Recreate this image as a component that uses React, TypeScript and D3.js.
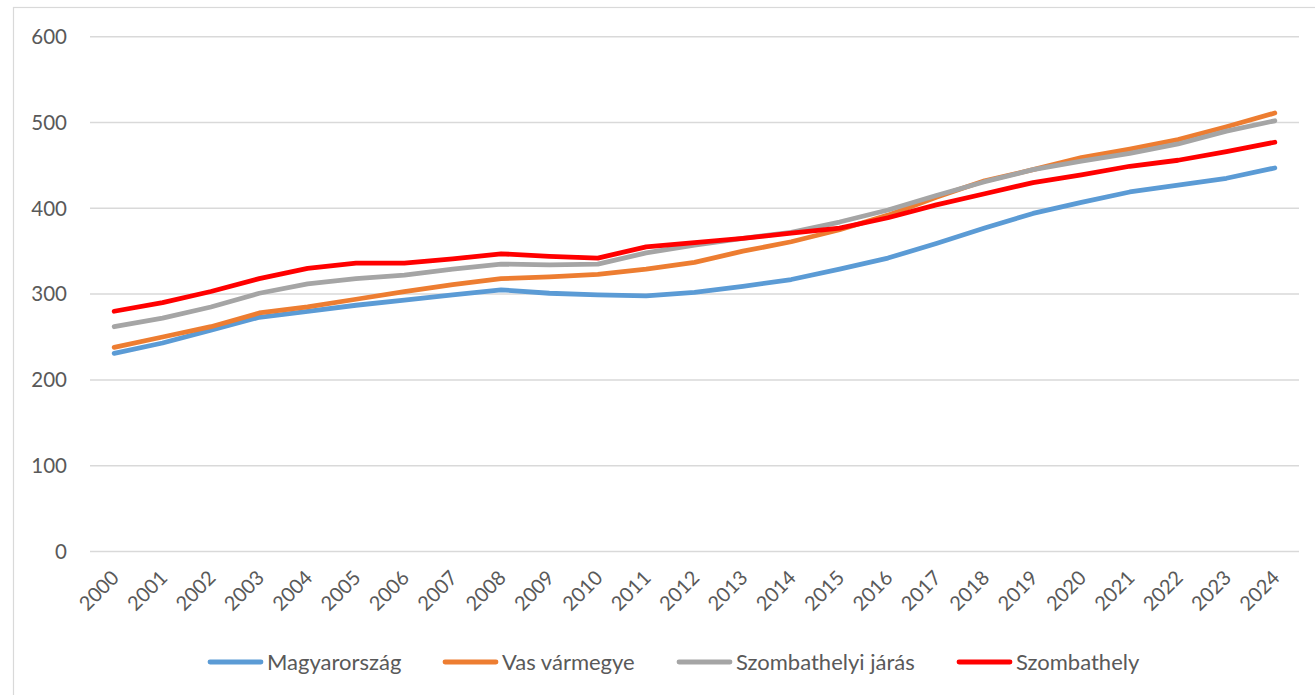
import React, { useEffect, useRef } from "react";
import * as d3 from "d3";

const years = d3.range(2000, 2025).map(String);
const yTicks = [0, 100, 200, 300, 400, 500, 600];

const magyarorszag = [231, 243, 258, 273, 280, 287, 293, 299, 305, 301, 299, 298, 302, 309, 317, 329, 342, 359, 377, 394, 407, 419, 427, 435, 447];
const vasVarmegye = [238, 250, 262, 278, 285, 294, 303, 311, 318, 320, 323, 329, 337, 350, 361, 375, 392, 413, 432, 445, 459, 469, 480, 495, 511];
const szombathelyiJaras = [262, 272, 285, 301, 312, 318, 322, 329, 335, 334, 335, 348, 357, 365, 372, 384, 398, 415, 431, 445, 455, 464, 475, 490, 502];
const szombathely = [280, 290, 303, 318, 330, 336, 336, 341, 347, 344, 342, 355, 360, 365, 371, 377, 389, 404, 417, 430, 439, 449, 456, 466, 477];

const seriesNames = ["Magyarország", "Vas vármegye", "Szombathelyi járás", "Szombathely"];
const seriesColors = ["#5B9BD5", "#ED7D31", "#A5A5A5", "#FF0000"];
const seriesValues = [magyarorszag, vasVarmegye, szombathelyiJaras, szombathely];

const W = 1315;
const H = 695;
const FONT = "Lato, 'Open Sans', sans-serif";

const App = () => {
  const ref = useRef<SVGGElement>(null);

  useEffect(() => {
    const g = d3.select(ref.current);
    g.selectAll("*").remove();

    const x = d3.scaleBand().domain(years).range([90, 1299]);
    const y = d3.scaleLinear().domain([0, 600]).range([551.5, 36.7]);
    const cx = (yr: string) => (x(yr) as number) + x.bandwidth() / 2;

    // chart frame
    g.append("rect")
      .attr("x", 13.5)
      .attr("y", 7.5)
      .attr("width", 1320)
      .attr("height", 700)
      .attr("fill", "white")
      .attr("stroke", "#d9d9d9")
      .attr("stroke-width", 1.2);

    // gridlines + y labels
    g.selectAll("line.grid")
      .data(yTicks)
      .enter()
      .append("line")
      .attr("class", "grid")
      .attr("x1", 90)
      .attr("x2", 1299)
      .attr("y1", d => y(d))
      .attr("y2", d => y(d))
      .attr("stroke", "#d9d9d9")
      .attr("stroke-width", 1.5);

    g.selectAll("text.ylab")
      .data(yTicks)
      .enter()
      .append("text")
      .attr("class", "ylab")
      .attr("x", 67)
      .attr("y", d => y(d))
      .attr("dy", "0.36em")
      .attr("text-anchor", "end")
      .style("font-family", FONT)
      .style("font-size", "20.5px")
      .style("fill", "#595959")
      .text(d => d);

    // x labels, rotated
    g.selectAll("text.xlab")
      .data(years)
      .enter()
      .append("text")
      .attr("class", "xlab")
      .attr("text-anchor", "end")
      .attr("transform", d => `translate(${cx(d) + 1},${574}) rotate(-45)`)
      .attr("dy", "0.36em")
      .style("font-family", FONT)
      .style("font-size", "20px")
      .style("fill", "#595959")
      .text(d => d);

    const line = d3
      .line<number>()
      .x((d, i) => cx(years[i]))
      .y(d => y(d));

    g.selectAll("path.series")
      .data(seriesValues)
      .enter()
      .append("path")
      .attr("class", "series")
      .attr("d", d => line(d))
      .attr("fill", "none")
      .attr("stroke", (d, i) => seriesColors[i])
      .attr("stroke-width", 4.8)
      .attr("stroke-linecap", "round")
      .attr("stroke-linejoin", "round");

    // legend
    const legendX = [208, 443, 677, 957];
    const legend = g
      .selectAll("g.legend")
      .data(seriesNames)
      .enter()
      .append("g")
      .attr("class", "legend")
      .attr("transform", (d, i) => `translate(${legendX[i]},662)`);

    legend
      .append("line")
      .attr("x1", 2)
      .attr("x2", 53)
      .attr("stroke", (d, i) => seriesColors[i])
      .attr("stroke-width", 4.8)
      .attr("stroke-linecap", "round");

    legend
      .append("text")
      .attr("x", 59)
      .attr("dy", "0.36em")
      .style("font-family", FONT)
      .style("font-size", "22px")
      .style("fill", "#595959")
      .text(d => d);
  }, []);

  return (
    <div style={{ position: "absolute", left: 0, top: 0 }}>
      <svg width={W} height={H}>
        <g ref={ref} />
      </svg>
    </div>
  );
};

export default App;
